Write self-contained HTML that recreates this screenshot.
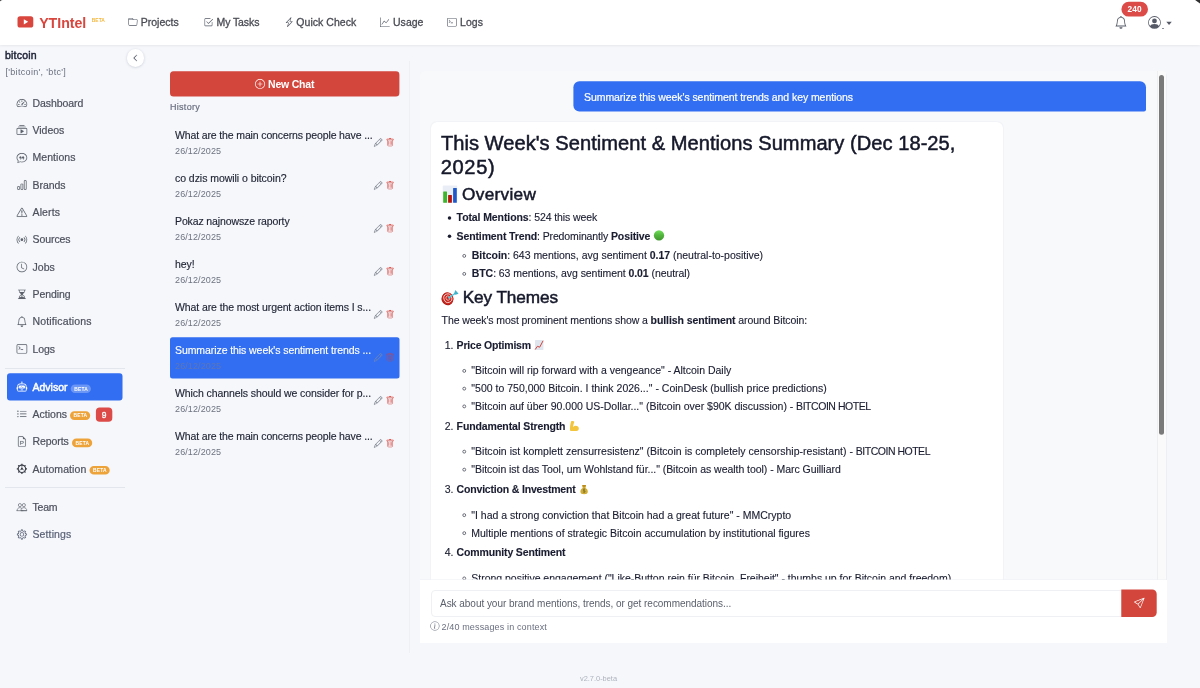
<!DOCTYPE html>
<html lang="en">
<head>
<meta charset="utf-8">
<title>YTIntel - Advisor</title>
<style>
*{box-sizing:border-box;margin:0;padding:0}
html,body{width:1200px;height:688px;overflow:hidden}
body{position:relative;background:#f5f7fb;font-family:"Liberation Sans",sans-serif;font-size:10.5px;color:#1f2333}
svg{display:block;overflow:visible}
.abs{position:absolute}
.t{position:absolute;white-space:nowrap}
b{font-weight:700}
#nav{position:absolute;left:0;top:0;width:1200px;height:45px;background:#fff;box-shadow:0 1.2px 2.4px rgba(0,0,0,.065)}
#chat{position:absolute;left:420px;top:71px;width:747px;height:572px;background:#f8f9fb;border-radius:5px 5px 0 0;overflow:hidden}
#msgs{position:absolute;left:0;top:0;width:747px;height:509px;overflow:hidden}
</style>
</head>
<body>
<div id="nav"></div>
<div id="navc">
<svg class="abs" style="left:16px;top:15px;width:19px;height:14px" viewBox="16 15 19 14"><rect x="17.5" y="16.2" width="15.8" height="11.3" rx="2.6" fill="#d9463d"/><path d="M23.8 19.3v5.1l4.4-2.55z" fill="#fff"/></svg>
<div class="t" id="t1" style="left:39.20px;top:14.00px;height:19px;line-height:19px;font-size:14.2px;color:#d9463d;font-weight:700;letter-spacing:-0.042px">YTIntel</div>
<div class="t" id="t2" style="left:91.70px;top:17.00px;height:7px;line-height:7px;font-size:4.9px;color:#f0b73f;font-weight:700;letter-spacing:0.087px">BETA</div>
<svg class="abs" style="left:127px;top:16px;width:12px;height:13px;color:#555a66" viewBox="-1.649 -2.309 19.794 21.443" fill="currentColor"><path d="M.54 3.87.5 3a2 2 0 0 1 2-2h3.672a2 2 0 0 1 1.414.586l.828.828A2 2 0 0 0 9.828 3h3.982a2 2 0 0 1 1.992 2.181l-.637 7A2 2 0 0 1 13.174 14H2.826a2 2 0 0 1-1.991-1.819l-.637-7a2 2 0 0 1 .342-1.31zM2.19 4a1 1 0 0 0-.996 1.09l.637 7a1 1 0 0 0 .995.91h10.348a1 1 0 0 0 .995-.91l.637-7A1 1 0 0 0 13.81 4zm4.69-1.707A1 1 0 0 0 6.172 2H2.5a1 1 0 0 0-1 .981l.006.139q.323-.119.684-.12h5.396z"/></svg>
<div class="t" id="t3" style="left:140.70px;top:15.00px;height:14px;line-height:14px;font-size:10.5px;color:#4a4c55;letter-spacing:0.008px;-webkit-text-stroke:0.3px currentColor">Projects</div>
<svg class="abs" style="left:202px;top:16px;width:13px;height:13px;color:#555a66" viewBox="-2.639 -2.309 21.443 21.443" fill="currentColor"><path d="M3 14.5A1.5 1.5 0 0 1 1.5 13V3A1.5 1.5 0 0 1 3 1.5h8a.5.5 0 0 1 0 1H3a.5.5 0 0 0-.5.5v10a.5.5 0 0 0 .5.5h10a.5.5 0 0 0 .5-.5V8a.5.5 0 0 1 1 0v5a1.5 1.5 0 0 1-1.5 1.5z"/><path d="m8.354 10.354 7-7a.5.5 0 0 0-.708-.708L8 9.293 5.354 6.646a.5.5 0 1 0-.708.708l3 3a.5.5 0 0 0 .708 0"/></svg>
<div class="t" id="t4" style="left:216.50px;top:15.00px;height:14px;line-height:14px;font-size:10.5px;color:#4a4c55;letter-spacing:-0.097px;-webkit-text-stroke:0.3px currentColor">My Tasks</div>
<svg class="abs" style="left:283px;top:16px;width:13px;height:13px;color:#555a66" viewBox="-2.101 -1.939 21.010 21.010" fill="currentColor"><path d="M11.251.068a.5.5 0 0 1 .227.58L9.677 6.5H13a.5.5 0 0 1 .364.843l-8 8.5a.5.5 0 0 1-.842-.49L6.323 9.5H3a.5.5 0 0 1-.364-.843l8-8.5a.5.5 0 0 1 .615-.09zM4.157 8.5H7a.5.5 0 0 1 .478.647L6.11 13.59l5.732-6.09H9a.5.5 0 0 1-.478-.647L9.89 2.41z"/></svg>
<div class="t" id="t5" style="left:296.30px;top:15.00px;height:14px;line-height:14px;font-size:10.5px;color:#4a4c55;letter-spacing:0.043px;-webkit-text-stroke:0.3px currentColor">Quick Check</div>
<svg class="abs" style="left:379px;top:16px;width:12px;height:13px;color:#555a66" viewBox="-1.649 -2.309 19.794 21.443" fill="currentColor"><path fill-rule="evenodd" d="M0 0h1v15h15v1H0zm14.817 3.113a.5.5 0 0 1 .07.704l-4.5 5.5a.5.5 0 0 1-.74.037L7.06 6.767l-3.656 5.027a.5.5 0 0 1-.808-.588l4-5.5a.5.5 0 0 1 .758-.06l2.609 2.61 4.15-5.073a.5.5 0 0 1 .704-.07"/></svg>
<div class="t" id="t6" style="left:393.00px;top:15.00px;height:14px;line-height:14px;font-size:10.5px;color:#4a4c55;letter-spacing:0.028px;-webkit-text-stroke:0.3px currentColor">Usage</div>
<svg class="abs" style="left:446px;top:16px;width:12px;height:13px;color:#555a66" viewBox="-1.649 -2.309 19.794 21.443" fill="currentColor"><path d="M6 9a.5.5 0 0 1 .5-.5h3a.5.5 0 0 1 0 1h-3A.5.5 0 0 1 6 9M3.854 4.146a.5.5 0 1 0-.708.708L4.793 6.5 3.146 8.146a.5.5 0 1 0 .708.708l2-2a.5.5 0 0 0 0-.708z"/><path d="M2 1a2 2 0 0 0-2 2v10a2 2 0 0 0 2 2h12a2 2 0 0 0 2-2V3a2 2 0 0 0-2-2zm12 1a1 1 0 0 1 1 1v10a1 1 0 0 1-1 1H2a1 1 0 0 1-1-1V3a1 1 0 0 1 1-1z"/></svg>
<div class="t" id="t7" style="left:460.00px;top:15.00px;height:14px;line-height:14px;font-size:10.5px;color:#4a4c55;letter-spacing:0.055px;-webkit-text-stroke:0.3px currentColor">Logs</div>
<svg class="abs" style="left:1113px;top:15px;width:16px;height:15px;color:#555a66" viewBox="-2.016 -1.386 20.157 18.898" fill="currentColor"><path d="M8 16a2 2 0 0 0 2-2H6a2 2 0 0 0 2 2M8 1.918l-.797.161A4 4 0 0 0 4 6c0 .628-.134 2.197-.459 3.742-.16.767-.376 1.566-.663 2.258h10.244c-.287-.692-.502-1.49-.663-2.258C12.134 8.197 12 6.628 12 6a4 4 0 0 0-3.203-3.92zM14.22 12c.223.447.481.801.78 1H1c.299-.199.557-.553.78-1C2.68 10.2 3 6.88 3 6c0-2.42 1.72-4.44 4.005-4.901a1 1 0 1 1 1.99 0A5 5 0 0 1 13 6c0 .88.32 4.2 1.22 6"/></svg>
<svg class="abs" style="left:1120px;top:0px;width:29px;height:18px" viewBox="1120 0 29 18"><path d="M1128.80 1.80H1140.60A7.4 7.4 0 0 1 1148.00 9.20V9.20A7.4 7.4 0 0 1 1140.60 16.60H1128.80A7.4 7.4 0 0 1 1121.40 9.20V9.20A7.4 7.4 0 0 1 1128.80 1.80z" fill="#dc4b48" /></svg>
<div class="t" id="t8" style="left:1121.40px;top:4.00px;height:11px;line-height:11px;font-size:8.3px;color:#fff;font-weight:700;letter-spacing:0.100px;width:26.6px;text-align:center">240</div>
<svg class="abs" style="left:1147px;top:15px;width:15px;height:15px;color:#555a66" viewBox="-1.380 -1.380 18.824 18.824" fill="currentColor"><path d="M11 6a3 3 0 1 1-6 0 3 3 0 0 1 6 0"/><path fill-rule="evenodd" d="M0 8a8 8 0 1 1 16 0A8 8 0 0 1 0 8m8-7a7 7 0 0 0-5.468 11.37C3.242 11.226 4.805 10 8 10s4.757 1.225 5.468 2.37A7 7 0 0 0 8 1"/></svg>
<div class="abs" style="left:1161.60px;top:27.90px;width:2.10px;height:0.80px;background:#8a8e99"></div>
<svg class="abs" style="left:1165px;top:20px;width:8px;height:6px" viewBox="1165 20 8 6"><path d="M1166.3 21.7h5.5l-2.75 3.2z" fill="#555a66"/></svg>
</div>
<div id="side">
<div class="t" id="t9" style="left:5.00px;top:48.00px;height:14px;line-height:14px;font-size:10.5px;color:#22263a;letter-spacing:0.206px;-webkit-text-stroke:0.45px currentColor">bitcoin</div>
<div class="t" id="t10" style="left:5.40px;top:66.00px;height:12px;line-height:12px;font-size:9px;color:#6b7080;letter-spacing:0.327px">['bitcoin', 'btc']</div>
<div class="abs" style="left:126.70px;top:49.20px;width:17.60px;height:17.60px;background:#fff;border-radius:50%;box-shadow:0 .5px 2.5px rgba(40,50,80,.22)"></div>
<svg class="abs" style="left:130px;top:53px;width:10px;height:10px;color:#4b5161" viewBox="-3.556 -3.111 22.222 22.222" fill="currentColor"><path d="M11.354 1.646a.5.5 0 0 1 0 .708L5.707 8l5.647 5.646a.5.5 0 0 1-.708.708l-6-6a.5.5 0 0 1 0-.708l6-6a.5.5 0 0 1 .708 0" stroke="currentColor" stroke-width=".8"/></svg>
<svg class="abs" style="left:15px;top:96px;width:14px;height:14px;color:#5d616c;stroke:currentColor;stroke-width:0.1" viewBox="-2.415 -2.566 21.132 21.132" fill="currentColor"><path d="M8 4a.5.5 0 0 1 .5.5V6a.5.5 0 0 1-1 0V4.5A.5.5 0 0 1 8 4M3.732 5.732a.5.5 0 0 1 .707 0l.915.914a.5.5 0 1 1-.708.708l-.914-.915a.5.5 0 0 1 0-.707M2 10a.5.5 0 0 1 .5-.5h1.586a.5.5 0 0 1 0 1H2.5A.5.5 0 0 1 2 10m9.5 0a.5.5 0 0 1 .5-.5h1.5a.5.5 0 0 1 0 1H12a.5.5 0 0 1-.5-.5m.754-4.246a.39.39 0 0 0-.527-.02L7.547 9.31a.91.91 0 1 0 1.302 1.258l3.434-4.297a.39.39 0 0 0-.029-.518z"/><path fill-rule="evenodd" d="M0 10a8 8 0 1 1 15.547 2.661c-.442 1.253-1.845 1.602-2.932 1.25C11.309 13.488 9.475 13 8 13c-1.474 0-3.31.488-4.615.911-1.087.352-2.49.003-2.932-1.25A8 8 0 0 1 0 10m8-7a7 7 0 0 0-6.603 9.329c.203.575.923.876 1.68.63C4.397 12.533 6.358 12 8 12s3.604.532 4.923.96c.757.245 1.477-.056 1.68-.631A7 7 0 0 0 8 3"/></svg>
<div class="t" id="t11" style="left:32.50px;top:96.00px;height:14px;line-height:14px;font-size:10.5px;color:#4d505c;letter-spacing:-0.069px;-webkit-text-stroke:0.2px currentColor">Dashboard</div>
<svg class="abs" style="left:15px;top:124px;width:14px;height:13px;color:#5d616c;stroke:currentColor;stroke-width:0.1" viewBox="-2.415 -1.555 21.132 19.623" fill="currentColor"><path d="M2 3a.5.5 0 0 0 .5.5h11a.5.5 0 0 0 0-1h-11A.5.5 0 0 0 2 3m2-2a.5.5 0 0 0 .5.5h7a.5.5 0 0 0 0-1h-7A.5.5 0 0 0 4 1m2.765 5.576A.5.5 0 0 0 6 7v5a.5.5 0 0 0 .765.424l4-2.5a.5.5 0 0 0 0-.848z"/><path d="M1.5 14.5A1.5 1.5 0 0 1 0 13V6a1.5 1.5 0 0 1 1.5-1.5h13A1.5 1.5 0 0 1 16 6v7a1.5 1.5 0 0 1-1.5 1.5zm13-1a.5.5 0 0 0 .5-.5V6a.5.5 0 0 0-.5-.5h-13A.5.5 0 0 0 1 6v7a.5.5 0 0 0 .5.5z"/></svg>
<div class="t" id="t12" style="left:32.50px;top:123.00px;height:14px;line-height:14px;font-size:10.5px;color:#4d505c;letter-spacing:-0.020px;-webkit-text-stroke:0.2px currentColor">Videos</div>
<svg class="abs" style="left:15px;top:151px;width:14px;height:13px;color:#5d616c;stroke:currentColor;stroke-width:0.1" viewBox="-2.415 -2.053 21.132 19.623" fill="currentColor"><path d="M2.678 11.894a1 1 0 0 1 .287.801 11 11 0 0 1-.398 2c1.395-.323 2.247-.697 2.634-.893a1 1 0 0 1 .71-.074A8 8 0 0 0 8 14c3.996 0 7-2.807 7-6s-3.004-6-7-6-7 2.808-7 6c0 1.468.617 2.83 1.678 3.894m-.493 3.905a22 22 0 0 1-.713.129c-.2.032-.352-.176-.273-.362a10 10 0 0 0 .244-.637l.003-.01c.248-.72.45-1.548.524-2.319C.743 11.37 0 9.76 0 8c0-3.866 3.582-7 8-7s8 3.134 8 7-3.582 7-8 7a9 9 0 0 1-2.347-.306c-.52.263-1.639.742-3.468 1.105"/><path d="M7.066 6.76A1.665 1.665 0 0 0 4 7.668a1.667 1.667 0 0 0 2.561 1.406c-.131.389-.375.804-.777 1.22a.417.417 0 0 0 .6.58c1.486-1.54 1.293-3.214.682-4.112zm4 0A1.665 1.665 0 0 0 8 7.668a1.667 1.667 0 0 0 2.561 1.406c-.131.389-.375.804-.777 1.22a.417.417 0 0 0 .6.58c1.486-1.54 1.293-3.214.682-4.112z"/></svg>
<div class="t" id="t13" style="left:32.50px;top:150.00px;height:14px;line-height:14px;font-size:10.5px;color:#4d505c;letter-spacing:0.049px;-webkit-text-stroke:0.2px currentColor">Mentions</div>
<svg class="abs" style="left:15px;top:178px;width:14px;height:14px;color:#5d616c;stroke:currentColor;stroke-width:0.1" viewBox="-2.415 -2.551 21.132 21.132" fill="currentColor"><path d="M4 11H2v3h2zm5-4H7v7h2zm5-5v12h-2V2zm-2-1a1 1 0 0 0-1 1v12a1 1 0 0 0 1 1h2a1 1 0 0 0 1-1V2a1 1 0 0 0-1-1zM6 7a1 1 0 0 1 1-1h2a1 1 0 0 1 1 1v7a1 1 0 0 1-1 1H7a1 1 0 0 1-1-1zm-5 4a1 1 0 0 1 1-1h2a1 1 0 0 1 1 1v3a1 1 0 0 1-1 1H2a1 1 0 0 1-1-1z"/></svg>
<div class="t" id="t14" style="left:32.50px;top:178.00px;height:14px;line-height:14px;font-size:10.5px;color:#4d505c;letter-spacing:-0.047px;-webkit-text-stroke:0.2px currentColor">Brands</div>
<svg class="abs" style="left:15px;top:206px;width:14px;height:13px;color:#5d616c;stroke:currentColor;stroke-width:0.1" viewBox="-2.415 -1.540 21.132 19.623" fill="currentColor"><path d="M7.938 2.016A.13.13 0 0 1 8.002 2a.13.13 0 0 1 .063.016.15.15 0 0 1 .054.057l6.857 11.667c.036.06.035.124.002.183a.2.2 0 0 1-.054.06.1.1 0 0 1-.066.017H1.146a.1.1 0 0 1-.066-.017.2.2 0 0 1-.054-.06.18.18 0 0 1 .002-.183L7.884 2.073a.15.15 0 0 1 .054-.057m1.044-.45a1.13 1.13 0 0 0-1.96 0L.165 13.233c-.457.778.091 1.767.98 1.767h13.713c.889 0 1.438-.99.98-1.767z"/><path d="M7.002 12a1 1 0 1 1 2 0 1 1 0 0 1-2 0M7.1 5.995a.905.905 0 1 1 1.8 0l-.35 3.507a.552.552 0 0 1-1.1 0z"/></svg>
<div class="t" id="t15" style="left:32.50px;top:205.00px;height:14px;line-height:14px;font-size:10.5px;color:#4d505c;letter-spacing:0.143px;-webkit-text-stroke:0.2px currentColor">Alerts</div>
<svg class="abs" style="left:15px;top:233px;width:14px;height:13px;color:#5d616c;stroke:currentColor;stroke-width:0.1" viewBox="-2.415 -2.038 21.132 19.623" fill="currentColor"><path d="M3.05 3.05a7 7 0 0 0 0 9.9.5.5 0 0 1-.707.707 8 8 0 0 1 0-11.314.5.5 0 0 1 .707.707m2.122 2.122a4 4 0 0 0 0 5.656.5.5 0 1 1-.708.708 5 5 0 0 1 0-7.072.5.5 0 0 1 .708.708m5.656-.708a.5.5 0 0 1 .708 0 5 5 0 0 1 0 7.072.5.5 0 1 1-.708-.708 4 4 0 0 0 0-5.656.5.5 0 0 1 0-.708m2.122-2.12a.5.5 0 0 1 .707 0 8 8 0 0 1 0 11.313.5.5 0 0 1-.707-.707 7 7 0 0 0 0-9.9.5.5 0 0 1 0-.707zM10 8a2 2 0 1 1-4 0 2 2 0 0 1 4 0"/></svg>
<div class="t" id="t16" style="left:32.50px;top:232.00px;height:14px;line-height:14px;font-size:10.5px;color:#4d505c;letter-spacing:-0.076px;-webkit-text-stroke:0.2px currentColor">Sources</div>
<svg class="abs" style="left:15px;top:260px;width:14px;height:14px;color:#5d616c;stroke:currentColor;stroke-width:0.1" viewBox="-2.415 -2.536 21.132 21.132" fill="currentColor"><path d="M8 3.5a.5.5 0 0 0-1 0V9a.5.5 0 0 0 .252.434l3.5 2a.5.5 0 0 0 .496-.868L8 8.71z"/><path d="M8 16A8 8 0 1 0 8 0a8 8 0 0 0 0 16m7-8A7 7 0 1 1 1 8a7 7 0 0 1 14 0"/></svg>
<div class="t" id="t17" style="left:32.50px;top:260.00px;height:14px;line-height:14px;font-size:10.5px;color:#4d505c;letter-spacing:0.028px;-webkit-text-stroke:0.2px currentColor">Jobs</div>
<svg class="abs" style="left:15px;top:288px;width:14px;height:13px;color:#5d616c;stroke:currentColor;stroke-width:0.1" viewBox="-2.415 -1.525 21.132 19.623" fill="currentColor"><path d="M2.5 15a.5.5 0 1 1 0-1h1v-1a4.5 4.5 0 0 1 2.557-4.06c.29-.139.443-.377.443-.59v-.7c0-.213-.154-.451-.443-.59A4.5 4.5 0 0 1 3.5 3V2h-1a.5.5 0 0 1 0-1h11a.5.5 0 0 1 0 1h-1v1a4.5 4.5 0 0 1-2.557 4.06c-.29.139-.443.377-.443.59v.7c0 .213.154.451.443.59A4.5 4.5 0 0 1 12.5 13v1h1a.5.5 0 0 1 0 1zm2-13v1c0 .537.12 1.045.337 1.5h6.326c.216-.455.337-.963.337-1.5V2zm3 6.35c0 .701-.478 1.236-1.011 1.492A3.5 3.5 0 0 0 4.5 13s.866-1.299 3-1.48zm1 0v3.17c2.134.181 3 1.48 3 1.48a3.5 3.5 0 0 0-1.989-3.158C8.978 9.586 8.5 9.052 8.5 8.351z"/></svg>
<div class="t" id="t18" style="left:32.50px;top:287.00px;height:14px;line-height:14px;font-size:10.5px;color:#4d505c;letter-spacing:-0.078px;-webkit-text-stroke:0.2px currentColor">Pending</div>
<svg class="abs" style="left:15px;top:315px;width:14px;height:13px;color:#5d616c;stroke:currentColor;stroke-width:0.1" viewBox="-2.415 -2.023 21.132 19.623" fill="currentColor"><path d="M8 16a2 2 0 0 0 2-2H6a2 2 0 0 0 2 2M8 1.918l-.797.161A4 4 0 0 0 4 6c0 .628-.134 2.197-.459 3.742-.16.767-.376 1.566-.663 2.258h10.244c-.287-.692-.502-1.49-.663-2.258C12.134 8.197 12 6.628 12 6a4 4 0 0 0-3.203-3.92zM14.22 12c.223.447.481.801.78 1H1c.299-.199.557-.553.78-1C2.68 10.2 3 6.88 3 6c0-2.42 1.72-4.44 4.005-4.901a1 1 0 1 1 1.99 0A5 5 0 0 1 13 6c0 .88.32 4.2 1.22 6"/></svg>
<div class="t" id="t19" style="left:32.50px;top:314.00px;height:14px;line-height:14px;font-size:10.5px;color:#4d505c;letter-spacing:0.157px;-webkit-text-stroke:0.2px currentColor">Notifications</div>
<svg class="abs" style="left:15px;top:342px;width:14px;height:14px;color:#5d616c;stroke:currentColor;stroke-width:0.1" viewBox="-2.415 -2.521 21.132 21.132" fill="currentColor"><path d="M6 9a.5.5 0 0 1 .5-.5h3a.5.5 0 0 1 0 1h-3A.5.5 0 0 1 6 9M3.854 4.146a.5.5 0 1 0-.708.708L4.793 6.5 3.146 8.146a.5.5 0 1 0 .708.708l2-2a.5.5 0 0 0 0-.708z"/><path d="M2 1a2 2 0 0 0-2 2v10a2 2 0 0 0 2 2h12a2 2 0 0 0 2-2V3a2 2 0 0 0-2-2zm12 1a1 1 0 0 1 1 1v10a1 1 0 0 1-1 1H2a1 1 0 0 1-1-1V3a1 1 0 0 1 1-1z"/></svg>
<div class="t" id="t20" style="left:32.50px;top:342.00px;height:14px;line-height:14px;font-size:10.5px;color:#4d505c;letter-spacing:-0.120px;-webkit-text-stroke:0.2px currentColor">Logs</div>
<div class="abs" style="left:5.00px;top:367.50px;width:119.50px;height:1.00px;background:#e3e6ec"></div>
<svg class="abs" style="left:6px;top:372px;width:118px;height:30px" viewBox="6 372 118 30"><path d="M10.00 373.25H119.50A3 3 0 0 1 122.50 376.25V397.50A3 3 0 0 1 119.50 400.50H10.00A3 3 0 0 1 7.00 397.50V376.25A3 3 0 0 1 10.00 373.25z" fill="#326ef1" /></svg>
<svg class="abs" style="left:15px;top:380px;width:14px;height:14px;color:#fff;stroke:currentColor;stroke-width:0.1" viewBox="-2.415 -2.415 21.132 21.132" fill="currentColor"><path d="M6 12.5a.5.5 0 0 1 .5-.5h3a.5.5 0 0 1 0 1h-3a.5.5 0 0 1-.5-.5M3 8.062C3 6.76 4.235 5.765 5.53 5.886a26.6 26.6 0 0 0 4.94 0C11.765 5.765 13 6.76 13 8.062v1.157a.93.93 0 0 1-.765.935c-.845.147-2.34.346-4.235.346s-3.39-.2-4.235-.346A.93.93 0 0 1 3 9.219zm4.542-.827a.25.25 0 0 0-.217.068l-.92.9a25 25 0 0 1-1.871-.183.25.25 0 0 0-.068.495c.55.076 1.232.149 2.02.193a.25.25 0 0 0 .189-.071l.754-.736.847 1.71a.25.25 0 0 0 .404.062l.932-.97a25 25 0 0 0 1.922-.188.25.25 0 0 0-.068-.495c-.538.074-1.207.145-1.98.189a.25.25 0 0 0-.166.076l-.754.785-.842-1.7a.25.25 0 0 0-.182-.135"/><path d="M8.5 1.866a1 1 0 1 0-1 0V3h-2A4.5 4.5 0 0 0 1 7.5V8a1 1 0 0 0-1 1v2a1 1 0 0 0 1 1v1a2 2 0 0 0 2 2h10a2 2 0 0 0 2-2v-1a1 1 0 0 0 1-1V9a1 1 0 0 0-1-1v-.5A4.5 4.5 0 0 0 10.5 3h-2zM14 7.5V13a1 1 0 0 1-1 1H3a1 1 0 0 1-1-1V7.5A3.5 3.5 0 0 1 5.5 4h5A3.5 3.5 0 0 1 14 7.5"/></svg>
<div class="t" id="t21" style="left:32.50px;top:380.00px;height:14px;line-height:14px;font-size:10.5px;color:#fff;letter-spacing:-0.002px;-webkit-text-stroke:0.45px currentColor">Advisor</div>
<svg class="abs" style="left:69px;top:383px;width:23px;height:12px" viewBox="69 383 23 12"><path d="M75.00 384.50H86.60A4.3 4.3 0 0 1 90.90 388.80V388.80A4.3 4.3 0 0 1 86.60 393.10H75.00A4.3 4.3 0 0 1 70.70 388.80V388.80A4.3 4.3 0 0 1 75.00 384.50z" fill="rgba(255,255,255,.28)" /></svg>
<div class="t" id="t22" style="left:71.00px;top:386.00px;height:7px;line-height:7px;font-size:4.9px;color:#fff;font-weight:700;letter-spacing:0.220px;width:20.2px;text-align:center">BETA</div>
<svg class="abs" style="left:15px;top:407px;width:14px;height:14px;color:#5d616c;stroke:currentColor;stroke-width:0.1" viewBox="-2.415 -2.943 21.132 21.132" fill="currentColor"><path fill-rule="evenodd" d="M5 11.5a.5.5 0 0 1 .5-.5h9a.5.5 0 0 1 0 1h-9a.5.5 0 0 1-.5-.5m0-4a.5.5 0 0 1 .5-.5h9a.5.5 0 0 1 0 1h-9a.5.5 0 0 1-.5-.5m0-4a.5.5 0 0 1 .5-.5h9a.5.5 0 0 1 0 1h-9a.5.5 0 0 1-.5-.5m-3 1a1 1 0 1 0 0-2 1 1 0 0 0 0 2m0 4a1 1 0 1 0 0-2 1 1 0 0 0 0 2m0 4a1 1 0 1 0 0-2 1 1 0 0 0 0 2"/></svg>
<div class="t" id="t23" style="left:32.50px;top:407.00px;height:14px;line-height:14px;font-size:10.5px;color:#4d505c;letter-spacing:0.009px;-webkit-text-stroke:0.2px currentColor">Actions</div>
<svg class="abs" style="left:69px;top:410px;width:23px;height:11px" viewBox="69 410 23 11"><path d="M74.30 411.30H85.90A4.3 4.3 0 0 1 90.20 415.60V415.60A4.3 4.3 0 0 1 85.90 419.90H74.30A4.3 4.3 0 0 1 70.00 415.60V415.60A4.3 4.3 0 0 1 74.30 411.30z" fill="#eea33a" /></svg>
<div class="t" id="t24" style="left:70.30px;top:412.00px;height:7px;line-height:7px;font-size:4.9px;color:#fff;font-weight:700;letter-spacing:0.220px;width:20.2px;text-align:center">BETA</div>
<svg class="abs" style="left:94px;top:406px;width:20px;height:17px" viewBox="94 406 20 17"><path d="M99.70 407.40H108.50A3.8 3.8 0 0 1 112.30 411.20V418.00A3.8 3.8 0 0 1 108.50 421.80H99.70A3.8 3.8 0 0 1 95.90 418.00V411.20A3.8 3.8 0 0 1 99.70 407.40z" fill="#dc4b48" /></svg>
<div class="t" id="t25" style="left:95.90px;top:410.00px;height:11px;line-height:11px;font-size:8.4px;color:#fff;-webkit-text-stroke:0.35px currentColor;width:16.4px;text-align:center">9</div>
<svg class="abs" style="left:15px;top:435px;width:14px;height:13px;color:#5d616c;stroke:currentColor;stroke-width:0.1" viewBox="-2.415 -1.887 21.132 19.623" fill="currentColor"><path d="M14 4.5V14a2 2 0 0 1-2 2H4a2 2 0 0 1-2-2V2a2 2 0 0 1 2-2h5.5zm-3 0A1.5 1.5 0 0 1 9.5 3V1H4a1 1 0 0 0-1 1v12a1 1 0 0 0 1 1h8a1 1 0 0 0 1-1V4.5z"/><path d="M5.5 7h3.2a2 2 0 0 1 0 4H6.5v1.8h-1zM6.5 8v2h2.1a1 1 0 0 0 0-2z"/></svg>
<div class="t" id="t26" style="left:32.50px;top:434.00px;height:14px;line-height:14px;font-size:10.5px;color:#4d505c;letter-spacing:-0.067px;-webkit-text-stroke:0.2px currentColor">Reports</div>
<svg class="abs" style="left:71px;top:437px;width:23px;height:12px" viewBox="71 437 23 12"><path d="M76.30 438.60H87.90A4.3 4.3 0 0 1 92.20 442.90V442.90A4.3 4.3 0 0 1 87.90 447.20H76.30A4.3 4.3 0 0 1 72.00 442.90V442.90A4.3 4.3 0 0 1 76.30 438.60z" fill="#eea33a" /></svg>
<div class="t" id="t27" style="left:72.30px;top:440.00px;height:7px;line-height:7px;font-size:4.9px;color:#fff;font-weight:700;letter-spacing:0.220px;width:20.2px;text-align:center">BETA</div>
<svg class="abs" style="left:15px;top:462px;width:14px;height:14px;color:#3f424c;stroke:currentColor;stroke-width:0.1" viewBox="-2.415 -2.340 21.132 21.132" fill="currentColor"><circle cx="8" cy="8" r="5.6" fill="none" stroke="currentColor" stroke-width="1.7"/><rect x="7.1" y="0.3" width="1.8" height="2.4" rx=".3" transform="rotate(0 8 8)"/><rect x="7.1" y="0.3" width="1.8" height="2.4" rx=".3" transform="rotate(45 8 8)"/><rect x="7.1" y="0.3" width="1.8" height="2.4" rx=".3" transform="rotate(90 8 8)"/><rect x="7.1" y="0.3" width="1.8" height="2.4" rx=".3" transform="rotate(135 8 8)"/><rect x="7.1" y="0.3" width="1.8" height="2.4" rx=".3" transform="rotate(180 8 8)"/><rect x="7.1" y="0.3" width="1.8" height="2.4" rx=".3" transform="rotate(225 8 8)"/><rect x="7.1" y="0.3" width="1.8" height="2.4" rx=".3" transform="rotate(270 8 8)"/><rect x="7.1" y="0.3" width="1.8" height="2.4" rx=".3" transform="rotate(315 8 8)"/><path d="M8 8L8 3.2M8 8L3.9 10.4M8 8L12.1 10.4" stroke="currentColor" stroke-width=".9" fill="none"/><circle cx="8" cy="8" r="1.5"/></svg>
<div class="t" id="t28" style="left:32.50px;top:462.00px;height:14px;line-height:14px;font-size:10.5px;color:#4d505c;letter-spacing:0.067px;-webkit-text-stroke:0.2px currentColor">Automation</div>
<svg class="abs" style="left:88px;top:464px;width:23px;height:12px" viewBox="88 464 23 12"><path d="M93.80 465.90H105.40A4.3 4.3 0 0 1 109.70 470.20V470.20A4.3 4.3 0 0 1 105.40 474.50H93.80A4.3 4.3 0 0 1 89.50 470.20V470.20A4.3 4.3 0 0 1 93.80 465.90z" fill="#eea33a" /></svg>
<div class="t" id="t29" style="left:89.80px;top:467.00px;height:7px;line-height:7px;font-size:4.9px;color:#fff;font-weight:700;letter-spacing:0.220px;width:20.2px;text-align:center">BETA</div>
<div class="abs" style="left:5.00px;top:487.20px;width:119.50px;height:1.00px;background:#e3e6ec"></div>
<svg class="abs" style="left:15px;top:500px;width:14px;height:14px;color:#5d616c;stroke:currentColor;stroke-width:0.1" viewBox="-2.415 -2.792 21.132 21.132" fill="currentColor"><circle cx="5" cy="4.9" r="2.35" fill="none" stroke="currentColor" stroke-width="1"/><circle cx="11" cy="4.9" r="2.35" fill="none" stroke="currentColor" stroke-width="1"/><path d="M.7 13.2c0-2.500001 1.700001-4.500001 4.300001-4.500001 1.400001 0 2.400001.6 3 1.400001M.5 13.300001h9.100001" fill="none" stroke="currentColor" stroke-width="1" stroke-linecap="round"/><path d="M6.6 13.2c0-2.500001 1.800001-4.500001 4.400001-4.500001s4.400001 2 4.400001 4.500001zM6.400001 13.300001h9.200001" fill="none" stroke="currentColor" stroke-width="1" stroke-linejoin="round"/></svg>
<div class="t" id="t30" style="left:32.50px;top:500.00px;height:14px;line-height:14px;font-size:10.5px;color:#4d505c;letter-spacing:-0.197px;-webkit-text-stroke:0.2px currentColor">Team</div>
<svg class="abs" style="left:15px;top:528px;width:14px;height:13px;color:#5a6176;stroke:currentColor;stroke-width:0.1" viewBox="-2.415 -1.736 21.132 19.623" fill="currentColor"><path fill-rule="evenodd" d="M8 4.750001a3.25 3.250001 0 1 0 0 6.5 3.25 3.25 0 0 0 0-6.5m0 1a2.25 2.25 0 1 1 0 4.500001 2.250001 2.25 0 0 1 0-4.5"/><path fill-rule="evenodd" d="M6.700001.6h2.6l.4 1.800001 1.100001.460001 1.560001-1 1.840001 1.840001-1 1.560001.46 1.100001 1.800001.4v2.600001l-1.800001.4-.46 1.100001 1 1.560001-1.840001 1.840001-1.560001-1-1.100001.46-.4 1.800001h-2.600001l-.4-1.800001-1.100001-.46-1.560001 1-1.840001-1.840001 1-1.560001-.460001-1.100001-1.800001-.4v-2.600001l1.800001-.4.460001-1.100001-1-1.560001 1.840001-1.840001 1.560001 1 1.100001-.460001zm.8 1l-.36 1.600001-1.960001.81-1.380001-.880001-.700001.700001.880001 1.380001-.81 1.960001-1.600001.36v1l1.600001.36.81 1.960001-.880001 1.380001.700001.700001 1.380001-.880001 1.960001.81.36 1.600001h1l.36-1.600001 1.960001-.81 1.380001.880001.700001-.700001-.880001-1.380001.81-1.960001 1.600001-.36v-1l-1.600001-.36-.81-1.960001.880001-1.380001-.700001-.700001-1.380001.880001-1.960001-.81-.36-1.600001z"/></svg>
<div class="t" id="t31" style="left:32.50px;top:527.00px;height:14px;line-height:14px;font-size:10.5px;color:#5a6176;letter-spacing:0.118px;-webkit-text-stroke:0.2px currentColor">Settings</div>
</div>
<div id="hist">
<div class="abs" style="left:409.00px;top:61.00px;width:1.30px;height:592.00px;background:#eef0f4"></div>
<svg class="abs" style="left:169px;top:70px;width:232px;height:28px" viewBox="169 70 232 28"><path d="M173.50 71.25H395.90A3.5 3.5 0 0 1 399.40 74.75V93.00A3.5 3.5 0 0 1 395.90 96.50H173.50A3.5 3.5 0 0 1 170.00 93.00V74.75A3.5 3.5 0 0 1 173.50 71.25z" fill="#d3463c" /></svg>
<svg class="abs" style="left:254px;top:78px;width:12px;height:12px;color:#fff;stroke:currentColor;stroke-width:0.12" viewBox="-1.600 -1.600 19.200 19.200" fill="currentColor"><path d="M8 15A7 7 0 1 1 8 1a7 7 0 0 1 0 14m0 1A8 8 0 1 0 8 0a8 8 0 0 0 0 16"/><path d="M8 4a.5.5 0 0 1 .5.5v3h3a.5.5 0 0 1 0 1h-3v3a.5.5 0 0 1-1 0v-3h-3a.5.5 0 0 1 0-1h3v-3A.5.5 0 0 1 8 4"/></svg>
<div class="t" id="t32" style="left:268.00px;top:77.00px;height:14px;line-height:14px;font-size:10.5px;color:#fff;font-weight:700;letter-spacing:-0.193px">New Chat</div>
<div class="t" id="t33" style="left:170.00px;top:101.00px;height:12px;line-height:12px;font-size:9px;color:#6b7080;letter-spacing:0.283px;-webkit-text-stroke:0.2px currentColor">History</div>
<div class="t" id="t34" style="left:175.00px;top:128.00px;height:14px;line-height:14px;font-size:10.5px;color:#1f2333;letter-spacing:-0.134px;-webkit-text-stroke:0.15px currentColor">What are the main concerns people have ...</div>
<div class="t" id="t35" style="left:175.00px;top:145.00px;height:12px;line-height:12px;font-size:9px;color:#6e7380;letter-spacing:0.120px">26/12/2025</div>
<svg class="abs" style="left:372px;top:137px;width:12px;height:11px;color:#7d828c;stroke:currentColor;stroke-width:0.2" viewBox="-3.535 -2.047 22.326 20.465" fill="currentColor"><path d="M12.146.146a.5.5 0 0 1 .708 0l3 3a.5.5 0 0 1 0 .708l-10 10a.5.5 0 0 1-.168.11l-5 2a.5.5 0 0 1-.65-.65l2-5a.5.5 0 0 1 .11-.168zM11.207 2.5 13.5 4.793 14.793 3.5 12.5 1.207zm1.586 3L10.5 3.207 4 9.707V10h.5a.5.5 0 0 1 .5.5v.5h.5a.5.5 0 0 1 .5.5v.5h.293zm-9.761 5.175-.106.106-1.528 3.821 3.821-1.528.106-.106A.5.5 0 0 1 5 12.5V12h-.5a.5.5 0 0 1-.5-.5V11h-.5a.5.5 0 0 1-.468-.325"/></svg>
<svg class="abs" style="left:384px;top:137px;width:12px;height:11px;color:#dc5a52;stroke:currentColor;stroke-width:0.1" viewBox="-3.349 -2.047 22.326 20.465" fill="currentColor"><path d="M5.5 5.5A.5.5 0 0 1 6 6v6a.5.5 0 0 1-1 0V6a.5.5 0 0 1 .5-.5m2.5 0a.5.5 0 0 1 .5.5v6a.5.5 0 0 1-1 0V6a.5.5 0 0 1 .5-.5m3 .5a.5.5 0 0 0-1 0v6a.5.5 0 0 0 1 0z"/><path d="M14.5 3a1 1 0 0 1-1 1H13v9a2 2 0 0 1-2 2H5a2 2 0 0 1-2-2V4h-.5a1 1 0 0 1-1-1V2a1 1 0 0 1 1-1H6a1 1 0 0 1 1-1h2a1 1 0 0 1 1 1h3.5a1 1 0 0 1 1 1zM4.118 4 4 4.059V13a1 1 0 0 0 1 1h6a1 1 0 0 0 1-1V4.059L11.882 4zM2.5 3h11V2h-11z"/></svg>
<div class="t" id="t36" style="left:175.00px;top:171.00px;height:14px;line-height:14px;font-size:10.5px;color:#1f2333;letter-spacing:-0.046px;-webkit-text-stroke:0.15px currentColor">co dzis mowili o bitcoin?</div>
<div class="t" id="t37" style="left:175.00px;top:188.00px;height:12px;line-height:12px;font-size:9px;color:#6e7380;letter-spacing:0.120px">26/12/2025</div>
<svg class="abs" style="left:372px;top:180px;width:12px;height:11px;color:#7d828c;stroke:currentColor;stroke-width:0.2" viewBox="-3.535 -2.047 22.326 20.465" fill="currentColor"><path d="M12.146.146a.5.5 0 0 1 .708 0l3 3a.5.5 0 0 1 0 .708l-10 10a.5.5 0 0 1-.168.11l-5 2a.5.5 0 0 1-.65-.65l2-5a.5.5 0 0 1 .11-.168zM11.207 2.5 13.5 4.793 14.793 3.5 12.5 1.207zm1.586 3L10.5 3.207 4 9.707V10h.5a.5.5 0 0 1 .5.5v.5h.5a.5.5 0 0 1 .5.5v.5h.293zm-9.761 5.175-.106.106-1.528 3.821 3.821-1.528.106-.106A.5.5 0 0 1 5 12.5V12h-.5a.5.5 0 0 1-.5-.5V11h-.5a.5.5 0 0 1-.468-.325"/></svg>
<svg class="abs" style="left:384px;top:180px;width:12px;height:11px;color:#dc5a52;stroke:currentColor;stroke-width:0.1" viewBox="-3.349 -2.047 22.326 20.465" fill="currentColor"><path d="M5.5 5.5A.5.5 0 0 1 6 6v6a.5.5 0 0 1-1 0V6a.5.5 0 0 1 .5-.5m2.5 0a.5.5 0 0 1 .5.5v6a.5.5 0 0 1-1 0V6a.5.5 0 0 1 .5-.5m3 .5a.5.5 0 0 0-1 0v6a.5.5 0 0 0 1 0z"/><path d="M14.5 3a1 1 0 0 1-1 1H13v9a2 2 0 0 1-2 2H5a2 2 0 0 1-2-2V4h-.5a1 1 0 0 1-1-1V2a1 1 0 0 1 1-1H6a1 1 0 0 1 1-1h2a1 1 0 0 1 1 1h3.5a1 1 0 0 1 1 1zM4.118 4 4 4.059V13a1 1 0 0 0 1 1h6a1 1 0 0 0 1-1V4.059L11.882 4zM2.5 3h11V2h-11z"/></svg>
<div class="t" id="t38" style="left:175.00px;top:214.00px;height:14px;line-height:14px;font-size:10.5px;color:#1f2333;letter-spacing:-0.122px;-webkit-text-stroke:0.15px currentColor">Pokaz najnowsze raporty</div>
<div class="t" id="t39" style="left:175.00px;top:231.00px;height:12px;line-height:12px;font-size:9px;color:#6e7380;letter-spacing:0.120px">26/12/2025</div>
<svg class="abs" style="left:372px;top:223px;width:12px;height:11px;color:#7d828c;stroke:currentColor;stroke-width:0.2" viewBox="-3.535 -2.047 22.326 20.465" fill="currentColor"><path d="M12.146.146a.5.5 0 0 1 .708 0l3 3a.5.5 0 0 1 0 .708l-10 10a.5.5 0 0 1-.168.11l-5 2a.5.5 0 0 1-.65-.65l2-5a.5.5 0 0 1 .11-.168zM11.207 2.5 13.5 4.793 14.793 3.5 12.5 1.207zm1.586 3L10.5 3.207 4 9.707V10h.5a.5.5 0 0 1 .5.5v.5h.5a.5.5 0 0 1 .5.5v.5h.293zm-9.761 5.175-.106.106-1.528 3.821 3.821-1.528.106-.106A.5.5 0 0 1 5 12.5V12h-.5a.5.5 0 0 1-.5-.5V11h-.5a.5.5 0 0 1-.468-.325"/></svg>
<svg class="abs" style="left:384px;top:223px;width:12px;height:11px;color:#dc5a52;stroke:currentColor;stroke-width:0.1" viewBox="-3.349 -2.047 22.326 20.465" fill="currentColor"><path d="M5.5 5.5A.5.5 0 0 1 6 6v6a.5.5 0 0 1-1 0V6a.5.5 0 0 1 .5-.5m2.5 0a.5.5 0 0 1 .5.5v6a.5.5 0 0 1-1 0V6a.5.5 0 0 1 .5-.5m3 .5a.5.5 0 0 0-1 0v6a.5.5 0 0 0 1 0z"/><path d="M14.5 3a1 1 0 0 1-1 1H13v9a2 2 0 0 1-2 2H5a2 2 0 0 1-2-2V4h-.5a1 1 0 0 1-1-1V2a1 1 0 0 1 1-1H6a1 1 0 0 1 1-1h2a1 1 0 0 1 1 1h3.5a1 1 0 0 1 1 1zM4.118 4 4 4.059V13a1 1 0 0 0 1 1h6a1 1 0 0 0 1-1V4.059L11.882 4zM2.5 3h11V2h-11z"/></svg>
<div class="t" id="t40" style="left:175.00px;top:257.00px;height:14px;line-height:14px;font-size:10.5px;color:#1f2333;letter-spacing:-0.090px;-webkit-text-stroke:0.15px currentColor">hey!</div>
<div class="t" id="t41" style="left:175.00px;top:274.00px;height:12px;line-height:12px;font-size:9px;color:#6e7380;letter-spacing:0.120px">26/12/2025</div>
<svg class="abs" style="left:372px;top:266px;width:12px;height:11px;color:#7d828c;stroke:currentColor;stroke-width:0.2" viewBox="-3.535 -2.047 22.326 20.465" fill="currentColor"><path d="M12.146.146a.5.5 0 0 1 .708 0l3 3a.5.5 0 0 1 0 .708l-10 10a.5.5 0 0 1-.168.11l-5 2a.5.5 0 0 1-.65-.65l2-5a.5.5 0 0 1 .11-.168zM11.207 2.5 13.5 4.793 14.793 3.5 12.5 1.207zm1.586 3L10.5 3.207 4 9.707V10h.5a.5.5 0 0 1 .5.5v.5h.5a.5.5 0 0 1 .5.5v.5h.293zm-9.761 5.175-.106.106-1.528 3.821 3.821-1.528.106-.106A.5.5 0 0 1 5 12.5V12h-.5a.5.5 0 0 1-.5-.5V11h-.5a.5.5 0 0 1-.468-.325"/></svg>
<svg class="abs" style="left:384px;top:266px;width:12px;height:11px;color:#dc5a52;stroke:currentColor;stroke-width:0.1" viewBox="-3.349 -2.047 22.326 20.465" fill="currentColor"><path d="M5.5 5.5A.5.5 0 0 1 6 6v6a.5.5 0 0 1-1 0V6a.5.5 0 0 1 .5-.5m2.5 0a.5.5 0 0 1 .5.5v6a.5.5 0 0 1-1 0V6a.5.5 0 0 1 .5-.5m3 .5a.5.5 0 0 0-1 0v6a.5.5 0 0 0 1 0z"/><path d="M14.5 3a1 1 0 0 1-1 1H13v9a2 2 0 0 1-2 2H5a2 2 0 0 1-2-2V4h-.5a1 1 0 0 1-1-1V2a1 1 0 0 1 1-1H6a1 1 0 0 1 1-1h2a1 1 0 0 1 1 1h3.5a1 1 0 0 1 1 1zM4.118 4 4 4.059V13a1 1 0 0 0 1 1h6a1 1 0 0 0 1-1V4.059L11.882 4zM2.5 3h11V2h-11z"/></svg>
<div class="t" id="t42" style="left:175.00px;top:300.00px;height:14px;line-height:14px;font-size:10.5px;color:#1f2333;letter-spacing:-0.095px;-webkit-text-stroke:0.15px currentColor">What are the most urgent action items I s...</div>
<div class="t" id="t43" style="left:175.00px;top:317.00px;height:12px;line-height:12px;font-size:9px;color:#6e7380;letter-spacing:0.120px">26/12/2025</div>
<svg class="abs" style="left:372px;top:309px;width:12px;height:11px;color:#7d828c;stroke:currentColor;stroke-width:0.2" viewBox="-3.535 -2.047 22.326 20.465" fill="currentColor"><path d="M12.146.146a.5.5 0 0 1 .708 0l3 3a.5.5 0 0 1 0 .708l-10 10a.5.5 0 0 1-.168.11l-5 2a.5.5 0 0 1-.65-.65l2-5a.5.5 0 0 1 .11-.168zM11.207 2.5 13.5 4.793 14.793 3.5 12.5 1.207zm1.586 3L10.5 3.207 4 9.707V10h.5a.5.5 0 0 1 .5.5v.5h.5a.5.5 0 0 1 .5.5v.5h.293zm-9.761 5.175-.106.106-1.528 3.821 3.821-1.528.106-.106A.5.5 0 0 1 5 12.5V12h-.5a.5.5 0 0 1-.5-.5V11h-.5a.5.5 0 0 1-.468-.325"/></svg>
<svg class="abs" style="left:384px;top:309px;width:12px;height:11px;color:#dc5a52;stroke:currentColor;stroke-width:0.1" viewBox="-3.349 -2.047 22.326 20.465" fill="currentColor"><path d="M5.5 5.5A.5.5 0 0 1 6 6v6a.5.5 0 0 1-1 0V6a.5.5 0 0 1 .5-.5m2.5 0a.5.5 0 0 1 .5.5v6a.5.5 0 0 1-1 0V6a.5.5 0 0 1 .5-.5m3 .5a.5.5 0 0 0-1 0v6a.5.5 0 0 0 1 0z"/><path d="M14.5 3a1 1 0 0 1-1 1H13v9a2 2 0 0 1-2 2H5a2 2 0 0 1-2-2V4h-.5a1 1 0 0 1-1-1V2a1 1 0 0 1 1-1H6a1 1 0 0 1 1-1h2a1 1 0 0 1 1 1h3.5a1 1 0 0 1 1 1zM4.118 4 4 4.059V13a1 1 0 0 0 1 1h6a1 1 0 0 0 1-1V4.059L11.882 4zM2.5 3h11V2h-11z"/></svg>
<svg class="abs" style="left:169px;top:336px;width:232px;height:44px" viewBox="169 336 232 44"><path d="M172.50 337.30H397.00A2.5 2.5 0 0 1 399.50 339.80V375.90A2.5 2.5 0 0 1 397.00 378.40H172.50A2.5 2.5 0 0 1 170.00 375.90V339.80A2.5 2.5 0 0 1 172.50 337.30z" fill="#326ef1" /></svg>
<div class="t" id="t44" style="left:175.00px;top:343.00px;height:14px;line-height:14px;font-size:10.5px;color:#fff;letter-spacing:-0.077px;-webkit-text-stroke:0.15px currentColor">Summarize this week&#x27;s sentiment trends ...</div>
<div class="t" id="t45" style="left:175.00px;top:360.00px;height:12px;line-height:12px;font-size:9px;color:#5d76b8;letter-spacing:0.120px">26/12/2025</div>
<svg class="abs" style="left:372px;top:352px;width:12px;height:11px;color:#6f85bd;stroke:currentColor;stroke-width:0.2" viewBox="-3.535 -2.047 22.326 20.465" fill="currentColor"><path d="M12.146.146a.5.5 0 0 1 .708 0l3 3a.5.5 0 0 1 0 .708l-10 10a.5.5 0 0 1-.168.11l-5 2a.5.5 0 0 1-.65-.65l2-5a.5.5 0 0 1 .11-.168zM11.207 2.5 13.5 4.793 14.793 3.5 12.5 1.207zm1.586 3L10.5 3.207 4 9.707V10h.5a.5.5 0 0 1 .5.5v.5h.5a.5.5 0 0 1 .5.5v.5h.293zm-9.761 5.175-.106.106-1.528 3.821 3.821-1.528.106-.106A.5.5 0 0 1 5 12.5V12h-.5a.5.5 0 0 1-.5-.5V11h-.5a.5.5 0 0 1-.468-.325"/></svg>
<svg class="abs" style="left:384px;top:352px;width:12px;height:11px;color:#a0507c;stroke:currentColor;stroke-width:0.1" viewBox="-3.349 -2.047 22.326 20.465" fill="currentColor"><path d="M5.5 5.5A.5.5 0 0 1 6 6v6a.5.5 0 0 1-1 0V6a.5.5 0 0 1 .5-.5m2.5 0a.5.5 0 0 1 .5.5v6a.5.5 0 0 1-1 0V6a.5.5 0 0 1 .5-.5m3 .5a.5.5 0 0 0-1 0v6a.5.5 0 0 0 1 0z"/><path d="M14.5 3a1 1 0 0 1-1 1H13v9a2 2 0 0 1-2 2H5a2 2 0 0 1-2-2V4h-.5a1 1 0 0 1-1-1V2a1 1 0 0 1 1-1H6a1 1 0 0 1 1-1h2a1 1 0 0 1 1 1h3.5a1 1 0 0 1 1 1zM4.118 4 4 4.059V13a1 1 0 0 0 1 1h6a1 1 0 0 0 1-1V4.059L11.882 4zM2.5 3h11V2h-11z"/></svg>
<div class="t" id="t46" style="left:175.00px;top:386.00px;height:14px;line-height:14px;font-size:10.5px;color:#1f2333;letter-spacing:-0.086px;-webkit-text-stroke:0.15px currentColor">Which channels should we consider for p...</div>
<div class="t" id="t47" style="left:175.00px;top:403.00px;height:12px;line-height:12px;font-size:9px;color:#6e7380;letter-spacing:0.120px">26/12/2025</div>
<svg class="abs" style="left:372px;top:395px;width:12px;height:11px;color:#7d828c;stroke:currentColor;stroke-width:0.2" viewBox="-3.535 -2.047 22.326 20.465" fill="currentColor"><path d="M12.146.146a.5.5 0 0 1 .708 0l3 3a.5.5 0 0 1 0 .708l-10 10a.5.5 0 0 1-.168.11l-5 2a.5.5 0 0 1-.65-.65l2-5a.5.5 0 0 1 .11-.168zM11.207 2.5 13.5 4.793 14.793 3.5 12.5 1.207zm1.586 3L10.5 3.207 4 9.707V10h.5a.5.5 0 0 1 .5.5v.5h.5a.5.5 0 0 1 .5.5v.5h.293zm-9.761 5.175-.106.106-1.528 3.821 3.821-1.528.106-.106A.5.5 0 0 1 5 12.5V12h-.5a.5.5 0 0 1-.5-.5V11h-.5a.5.5 0 0 1-.468-.325"/></svg>
<svg class="abs" style="left:384px;top:395px;width:12px;height:11px;color:#dc5a52;stroke:currentColor;stroke-width:0.1" viewBox="-3.349 -2.047 22.326 20.465" fill="currentColor"><path d="M5.5 5.5A.5.5 0 0 1 6 6v6a.5.5 0 0 1-1 0V6a.5.5 0 0 1 .5-.5m2.5 0a.5.5 0 0 1 .5.5v6a.5.5 0 0 1-1 0V6a.5.5 0 0 1 .5-.5m3 .5a.5.5 0 0 0-1 0v6a.5.5 0 0 0 1 0z"/><path d="M14.5 3a1 1 0 0 1-1 1H13v9a2 2 0 0 1-2 2H5a2 2 0 0 1-2-2V4h-.5a1 1 0 0 1-1-1V2a1 1 0 0 1 1-1H6a1 1 0 0 1 1-1h2a1 1 0 0 1 1 1h3.5a1 1 0 0 1 1 1zM4.118 4 4 4.059V13a1 1 0 0 0 1 1h6a1 1 0 0 0 1-1V4.059L11.882 4zM2.5 3h11V2h-11z"/></svg>
<div class="t" id="t48" style="left:175.00px;top:429.00px;height:14px;line-height:14px;font-size:10.5px;color:#1f2333;letter-spacing:-0.134px;-webkit-text-stroke:0.15px currentColor">What are the main concerns people have ...</div>
<div class="t" id="t49" style="left:175.00px;top:446.00px;height:12px;line-height:12px;font-size:9px;color:#6e7380;letter-spacing:0.120px">26/12/2025</div>
<svg class="abs" style="left:372px;top:438px;width:12px;height:11px;color:#7d828c;stroke:currentColor;stroke-width:0.2" viewBox="-3.535 -2.047 22.326 20.465" fill="currentColor"><path d="M12.146.146a.5.5 0 0 1 .708 0l3 3a.5.5 0 0 1 0 .708l-10 10a.5.5 0 0 1-.168.11l-5 2a.5.5 0 0 1-.65-.65l2-5a.5.5 0 0 1 .11-.168zM11.207 2.5 13.5 4.793 14.793 3.5 12.5 1.207zm1.586 3L10.5 3.207 4 9.707V10h.5a.5.5 0 0 1 .5.5v.5h.5a.5.5 0 0 1 .5.5v.5h.293zm-9.761 5.175-.106.106-1.528 3.821 3.821-1.528.106-.106A.5.5 0 0 1 5 12.5V12h-.5a.5.5 0 0 1-.5-.5V11h-.5a.5.5 0 0 1-.468-.325"/></svg>
<svg class="abs" style="left:384px;top:438px;width:12px;height:11px;color:#dc5a52;stroke:currentColor;stroke-width:0.1" viewBox="-3.349 -2.047 22.326 20.465" fill="currentColor"><path d="M5.5 5.5A.5.5 0 0 1 6 6v6a.5.5 0 0 1-1 0V6a.5.5 0 0 1 .5-.5m2.5 0a.5.5 0 0 1 .5.5v6a.5.5 0 0 1-1 0V6a.5.5 0 0 1 .5-.5m3 .5a.5.5 0 0 0-1 0v6a.5.5 0 0 0 1 0z"/><path d="M14.5 3a1 1 0 0 1-1 1H13v9a2 2 0 0 1-2 2H5a2 2 0 0 1-2-2V4h-.5a1 1 0 0 1-1-1V2a1 1 0 0 1 1-1H6a1 1 0 0 1 1-1h2a1 1 0 0 1 1 1h3.5a1 1 0 0 1 1 1zM4.118 4 4 4.059V13a1 1 0 0 0 1 1h6a1 1 0 0 0 1-1V4.059L11.882 4zM2.5 3h11V2h-11z"/></svg>
</div>
<div id="chat"><div id="msgs">
<svg class="abs" style="left:152px;top:9px;width:575px;height:33px" viewBox="572 80 575 33"><path d="M579.40 81.30H1140.00A6 6 0 0 1 1146.00 87.30V109.50A2 2 0 0 1 1144.00 111.50H579.40A6 6 0 0 1 573.40 105.50V87.30A6 6 0 0 1 579.40 81.30z" fill="#326ef1" /></svg>
<div class="t" id="t50" style="left:164.00px;top:19.00px;height:14px;line-height:14px;font-size:10.5px;color:#fff;letter-spacing:-0.069px;-webkit-text-stroke:0.2px currentColor">Summarize this week's sentiment trends and key mentions</div>
<div class="abs" style="left:10.70px;top:50.80px;width:572.20px;height:600.00px;background:#fff;border-radius:6px;box-shadow:0 0 1.5px rgba(60,70,100,.14)"></div>
<div class="t" id="t51" style="left:20.90px;top:59.00px;height:27px;line-height:27px;font-size:20.1px;color:#15182a;letter-spacing:0.035px;-webkit-text-stroke:0.5px currentColor">This Week's Sentiment &amp; Mentions Summary (Dec 18-25,</div>
<div class="t" id="t52" style="left:20.70px;top:83.00px;height:27px;line-height:27px;font-size:20.1px;color:#15182a;letter-spacing:0.639px;-webkit-text-stroke:0.5px currentColor">2025)</div>
<svg class="abs" role="img" aria-label="📊" style="left:21px;top:113px;width:18px;height:21px" viewBox="441 184 18 21"><rect x="442.7" y="185.6" width="14.5" height="17.3" rx=".8" fill="#e9eef6"/><rect x="443.2" y="191.6" width="3.8" height="11.2" rx=".5" fill="#3fb52a"/><rect x="448.1" y="194.9" width="3.8" height="7.9" rx=".5" fill="#b5170e"/><rect x="453.1" y="187.9" width="3.7" height="14.9" rx=".5" fill="#1f58c9"/></svg>
<div class="t" id="t53" style="left:42.10px;top:112.00px;height:23px;line-height:23px;font-size:17.2px;color:#15182a;letter-spacing:0.295px;-webkit-text-stroke:0.5px currentColor">Overview</div>
<svg class="abs" style="left:26px;top:144px;width:7px;height:7px" viewBox="446 215 7 7"><circle cx="449.5" cy="218.1" r="1.75" fill="#1a1d30"/></svg>
<div class="t" id="t54" style="left:36.60px;top:139.00px;height:14px;line-height:14px;font-size:10.5px;color:#1a1d30;letter-spacing:-0.099px;-webkit-text-stroke:0.12px currentColor"><b>Total Mentions</b>: 524 this week</div>
<svg class="abs" style="left:26px;top:162px;width:7px;height:7px" viewBox="446 233 7 7"><circle cx="449.5" cy="236.3" r="1.75" fill="#1a1d30"/></svg>
<div class="t" id="t55" style="left:36.60px;top:158.00px;height:14px;line-height:14px;font-size:10.5px;color:#1a1d30;letter-spacing:-0.121px;-webkit-text-stroke:0.12px currentColor"><b>Sentiment Trend</b>: Predominantly <b>Positive</b></div>
<svg class="abs" role="img" aria-label="🟢" style="left:232px;top:158px;width:14px;height:13px" viewBox="652 229 14 13"><defs><linearGradient id="gg" x1="0" y1="0" x2="0" y2="1"><stop offset="0" stop-color="#6fe05a"/><stop offset=".45" stop-color="#55b83f"/><stop offset="1" stop-color="#3f962c"/></linearGradient></defs><circle cx="659" cy="235.4" r="5.15" fill="url(#gg)"/></svg>
<svg class="abs" style="left:41px;top:181px;width:7px;height:7px" viewBox="461 252 7 7"><circle cx="464.25" cy="255.9" r="1.45" fill="none" stroke="#4a4e5c" stroke-width=".8"/></svg>
<div class="t" id="t56" style="left:51.75px;top:177.00px;height:14px;line-height:14px;font-size:10.5px;color:#1a1d30;letter-spacing:-0.018px;-webkit-text-stroke:0.12px currentColor"><b>Bitcoin</b>: 643 mentions, avg sentiment <b>0.17</b> (neutral-to-positive)</div>
<svg class="abs" style="left:41px;top:199px;width:7px;height:7px" viewBox="461 270 7 7"><circle cx="464.25" cy="273.9" r="1.45" fill="none" stroke="#4a4e5c" stroke-width=".8"/></svg>
<div class="t" id="t57" style="left:51.75px;top:195.00px;height:14px;line-height:14px;font-size:10.5px;color:#1a1d30;letter-spacing:-0.064px;-webkit-text-stroke:0.12px currentColor"><b>BTC</b>: 63 mentions, avg sentiment <b>0.01</b> (neutral)</div>
<svg class="abs" role="img" aria-label="🎯" style="left:20px;top:217px;width:20px;height:19px" viewBox="440 288 20 19"><g transform="rotate(-20 447.6 298.5)"><ellipse cx="447.3" cy="298.9" rx="5.9" ry="6.3" fill="#a81b14"/><ellipse cx="447.8" cy="298.4" rx="5.6" ry="6.1" fill="#c9261d"/><ellipse cx="447.9" cy="298.3" rx="3.9" ry="4.3" fill="none" stroke="#fff" stroke-width=".75" opacity=".9"/><ellipse cx="448" cy="298.2" rx="1.9" ry="2.2" fill="none" stroke="#fff" stroke-width=".65" opacity=".85"/></g><path d="M448.6 297.800001l6.4-4.3" stroke="#55c6da" stroke-width="1.5" stroke-linecap="round"/><path d="M454 293.9l1.3-3.8 3.3 3.700001-3.100001 1z" fill="#3fb3ca"/></svg>
<div class="t" id="t58" style="left:42.70px;top:215.00px;height:23px;line-height:23px;font-size:17.2px;color:#15182a;letter-spacing:-0.087px;-webkit-text-stroke:0.5px currentColor">Key Themes</div>
<div class="t" id="t59" style="left:21.60px;top:242.00px;height:14px;line-height:14px;font-size:10.5px;color:#1a1d30;letter-spacing:-0.088px;-webkit-text-stroke:0.12px currentColor">The week's most prominent mentions show a <b>bullish sentiment</b> around Bitcoin:</div>
<div class="t" id="t60" style="left:20.00px;top:267.00px;height:14px;line-height:14px;font-size:10.5px;color:#1a1d30;-webkit-text-stroke:0.12px currentColor;width:13.4px;text-align:right">1.</div>
<div class="t" id="t61" style="left:36.60px;top:267.00px;height:14px;line-height:14px;font-size:10.5px;color:#1a1d30;letter-spacing:-0.195px;-webkit-text-stroke:0.12px currentColor"><b>Price Optimism</b></div>
<svg class="abs" role="img" aria-label="📈" style="left:113px;top:267px;width:12px;height:14px" viewBox="533 338 12 14"><rect x="535" y="340" width="8.4" height="10.1" rx=".5" fill="#dfe6ee"/><path d="M535.4 349.2l2-2.9 2.3.9 3.2-6.1" fill="none" stroke="#d0453f" stroke-width="1" stroke-linecap="round" stroke-linejoin="round"/></svg>
<svg class="abs" style="left:41px;top:296px;width:7px;height:7px" viewBox="461 367 7 7"><circle cx="464.25" cy="370.9" r="1.45" fill="none" stroke="#4a4e5c" stroke-width=".8"/></svg>
<div class="t" id="t62" style="left:51.30px;top:292.00px;height:14px;line-height:14px;font-size:10.5px;color:#1a1d30;letter-spacing:-0.004px;-webkit-text-stroke:0.12px currentColor">"Bitcoin will rip forward with a vengeance" - Altcoin Daily</div>
<svg class="abs" style="left:41px;top:314px;width:7px;height:7px" viewBox="461 385 7 7"><circle cx="464.25" cy="388.65" r="1.45" fill="none" stroke="#4a4e5c" stroke-width=".8"/></svg>
<div class="t" id="t63" style="left:51.30px;top:310.00px;height:14px;line-height:14px;font-size:10.5px;color:#1a1d30;letter-spacing:0.008px;-webkit-text-stroke:0.12px currentColor">"500 to 750,000 Bitcoin. I think 2026..." - CoinDesk (bullish price predictions)</div>
<svg class="abs" style="left:41px;top:332px;width:7px;height:7px" viewBox="461 403 7 7"><circle cx="464.25" cy="406.4" r="1.45" fill="none" stroke="#4a4e5c" stroke-width=".8"/></svg>
<div class="t" id="t64" style="left:51.30px;top:328.00px;height:14px;line-height:14px;font-size:10.5px;color:#1a1d30;letter-spacing:-0.009px;-webkit-text-stroke:0.12px currentColor">"Bitcoin auf über 90.000 US-Dollar..." (Bitcoin over $90K discussion) -</div>
<div class="t" id="t65" style="left:376.10px;top:328.00px;height:14px;line-height:14px;font-size:10.5px;color:#1a1d30;letter-spacing:-0.455px;-webkit-text-stroke:0.12px currentColor">BITCOIN HOTEL</div>
<div class="t" id="t66" style="left:20.00px;top:348.00px;height:14px;line-height:14px;font-size:10.5px;color:#1a1d30;-webkit-text-stroke:0.12px currentColor;width:13.4px;text-align:right">2.</div>
<div class="t" id="t67" style="left:36.60px;top:348.00px;height:14px;line-height:14px;font-size:10.5px;color:#1a1d30;letter-spacing:-0.131px;-webkit-text-stroke:0.12px currentColor"><b>Fundamental Strength</b></div>
<svg class="abs" role="img" aria-label="💪" style="left:148px;top:348px;width:13px;height:14px" viewBox="568 419 13 14"><path d="M571.2 421.3c.9-.5 2.4-.4 2.9.3.4.6-.2 1.500001-.5 2.400001-.3 1-.5 2.100001-.4 2.900001 1.300001-1.300001 3.500001-1.400001 4.700001-.3 1.100001 1 1.300001 2.700001.3 3.600001-1.400001 1.100001-5.800001 1.100001-8.100001.6-.4-2.900001.2-7.300001 1.100001-9.500001z" fill="#f2c53d"/></svg>
<svg class="abs" style="left:41px;top:377px;width:7px;height:7px" viewBox="461 448 7 7"><circle cx="464.25" cy="451.65" r="1.45" fill="none" stroke="#4a4e5c" stroke-width=".8"/></svg>
<div class="t" id="t68" style="left:51.30px;top:373.00px;height:14px;line-height:14px;font-size:10.5px;color:#1a1d30;letter-spacing:0.022px;-webkit-text-stroke:0.12px currentColor">"Bitcoin ist komplett zensurresistenz" (Bitcoin is completely censorship-resistant) -</div>
<div class="t" id="t69" style="left:435.80px;top:373.00px;height:14px;line-height:14px;font-size:10.5px;color:#1a1d30;letter-spacing:-0.486px;-webkit-text-stroke:0.12px currentColor">BITCOIN HOTEL</div>
<svg class="abs" style="left:41px;top:395px;width:7px;height:7px" viewBox="461 466 7 7"><circle cx="464.25" cy="469.65" r="1.45" fill="none" stroke="#4a4e5c" stroke-width=".8"/></svg>
<div class="t" id="t70" style="left:51.30px;top:391.00px;height:14px;line-height:14px;font-size:10.5px;color:#1a1d30;letter-spacing:-0.042px;-webkit-text-stroke:0.12px currentColor">"Bitcoin ist das Tool, um Wohlstand für..." (Bitcoin as wealth tool) - Marc Guilliard</div>
<div class="t" id="t71" style="left:20.00px;top:411.00px;height:14px;line-height:14px;font-size:10.5px;color:#1a1d30;-webkit-text-stroke:0.12px currentColor;width:13.4px;text-align:right">3.</div>
<div class="t" id="t72" style="left:36.60px;top:411.00px;height:14px;line-height:14px;font-size:10.5px;color:#1a1d30;letter-spacing:-0.179px;-webkit-text-stroke:0.12px currentColor"><b>Conviction &amp; Investment</b></div>
<svg class="abs" role="img" aria-label="💰" style="left:159px;top:412px;width:11px;height:13px" viewBox="579 483 11 13"><path d="M582.2 485h3.8l-.5 2.900001c1.500001.8 2.400001 2.200001 2.300001 3.800001-.1 1.700001-1.200001 2.500001-3.700001 2.500001s-3.600001-.8-3.700001-2.500001c-.1-1.600001.8-3 2.300001-3.800001z" fill="#d2ad35"/><path d="M582.4 485h3.400001l-.3 1.700001h-2.800001z" fill="#b98a1d"/><path d="M584.800001 489.3c-.9-.4-1.700001.1-1.600001.7.2 1 1.800001.5 1.900001 1.500001.1.7-.9 1-1.900001.5M584.100001 488.5v4.200001" stroke="#6d6a32" stroke-width=".7" fill="none"/></svg>
<svg class="abs" style="left:41px;top:441px;width:7px;height:7px" viewBox="461 512 7 7"><circle cx="464.25" cy="515.15" r="1.45" fill="none" stroke="#4a4e5c" stroke-width=".8"/></svg>
<div class="t" id="t73" style="left:51.30px;top:437.00px;height:14px;line-height:14px;font-size:10.5px;color:#1a1d30;letter-spacing:0.003px;-webkit-text-stroke:0.12px currentColor">"I had a strong conviction that Bitcoin had a great future" - MMCrypto</div>
<svg class="abs" style="left:41px;top:459px;width:7px;height:7px" viewBox="461 530 7 7"><circle cx="464.25" cy="533.15" r="1.45" fill="none" stroke="#4a4e5c" stroke-width=".8"/></svg>
<div class="t" id="t74" style="left:51.30px;top:455.00px;height:14px;line-height:14px;font-size:10.5px;color:#1a1d30;letter-spacing:-0.006px;-webkit-text-stroke:0.12px currentColor">Multiple mentions of strategic Bitcoin accumulation by institutional figures</div>
<div class="t" id="t75" style="left:20.00px;top:474.00px;height:14px;line-height:14px;font-size:10.5px;color:#1a1d30;-webkit-text-stroke:0.12px currentColor;width:13.4px;text-align:right">4.</div>
<div class="t" id="t76" style="left:36.60px;top:474.00px;height:14px;line-height:14px;font-size:10.5px;color:#1a1d30;letter-spacing:-0.139px;-webkit-text-stroke:0.12px currentColor"><b>Community Sentiment</b></div>
<svg class="abs" style="left:41px;top:504px;width:7px;height:7px" viewBox="461 575 7 7"><circle cx="464.25" cy="578.4" r="1.45" fill="none" stroke="#4a4e5c" stroke-width=".8"/></svg>
<div class="t" id="t77" style="left:51.30px;top:500.00px;height:14px;line-height:14px;font-size:10.5px;color:#1a1d30;letter-spacing:-0.020px;-webkit-text-stroke:0.12px currentColor">Strong positive engagement ("Like-Button rein für Bitcoin, Freiheit" - thumbs up for Bitcoin and freedom)</div>
<div class="abs" style="left:736.70px;top:0.00px;width:10.30px;height:510.00px;background:#fafafa;border-left:1px solid #eeeff2;border-right:1px solid #eeeff2"></div>
<svg class="abs" style="left:738px;top:3px;width:7px;height:362px" viewBox="1158 74 7 362"><path d="M1161.50 75.10H1161.50A2.5 2.5 0 0 1 1164.00 77.60V432.20A2.5 2.5 0 0 1 1161.50 434.70H1161.50A2.5 2.5 0 0 1 1159.00 432.20V77.60A2.5 2.5 0 0 1 1161.50 75.10z" fill="#7a7a7a" /></svg>
</div>
<div class="abs" style="left:0.00px;top:508.60px;width:747.00px;height:63.60px;background:#fff;box-shadow:0 -.5px 0 #eef0f4"></div>
<div class="abs" style="left:10.50px;top:518.50px;width:691.50px;height:27.50px;background:#fff;border-radius:4px 0 0 4px;border:1px solid #eef0f3"></div>
<div class="t" id="t78" style="left:20.00px;top:526.00px;height:13px;line-height:13px;font-size:10px;color:#5a5f6b;letter-spacing:-0.035px">Ask about your brand mentions, trends, or get recommendations...</div>
<svg class="abs" style="left:700px;top:517px;width:38px;height:31px" viewBox="1120 588 38 31"><path d="M1121.30 589.50H1152.20A4.5 4.5 0 0 1 1156.70 594.00V612.60A4.5 4.5 0 0 1 1152.20 617.10H1121.30V589.50z" fill="#d3463c" /></svg>
<svg class="abs" style="left:713px;top:525px;width:13px;height:14px;color:#fff" viewBox="-1.524 -2.590 19.810 21.333" fill="currentColor"><path d="M15.854.146a.5.5 0 0 1 .11.54l-5.819 14.547a.75.75 0 0 1-1.329.124l-3.178-4.995L.643 7.184a.75.75 0 0 1 .124-1.33L15.314.037a.5.5 0 0 1 .54.11ZM6.636 10.07l2.761 4.338L14.13 2.576zm6.787-8.201L1.591 6.602l4.339 2.76z"/></svg>
<svg class="abs" style="left:9px;top:549px;width:12px;height:12px;color:#6b7080" viewBox="-2.261 -2.435 20.870 20.870" fill="currentColor"><path d="M8 15A7 7 0 1 1 8 1a7 7 0 0 1 0 14m0 1A8 8 0 1 0 8 0a8 8 0 0 0 0 16"/><path d="m8.93 6.588-2.29.287-.082.38.45.083c.294.07.352.176.288.469l-.738 3.468c-.194.897.105 1.319.808 1.319.545 0 1.178-.252 1.465-.598l.088-.416c-.2.176-.492.246-.686.246-.275 0-.375-.193-.304-.533zM9 4.5a1 1 0 1 1-2 0 1 1 0 0 1 2 0"/></svg>
<div class="t" id="t79" style="left:21.50px;top:550.00px;height:12px;line-height:12px;font-size:9px;color:#6b7080;letter-spacing:0.143px">2/40 messages in context</div>
</div>
<div class="t" id="t80" style="left:580.00px;top:674.00px;height:10px;line-height:10px;font-size:7.4px;color:#afb3bd;letter-spacing:0.001px">v2.7.0-beta</div>
<svg class="abs" style="left:-1px;top:-1px;width:7px;height:7px" viewBox="-1 -1 7 7"><path d="M0 0h2.5C1.2 .15 .3 .6 0 1.500001z" fill="#2d2d2d"/></svg>
<svg class="abs" style="left:1194px;top:-1px;width:7px;height:7px" viewBox="1194 -1 7 7"><path d="M1200 0h-4.9l4.9 3.500001z" fill="#303030"/></svg>
</body>
</html>
